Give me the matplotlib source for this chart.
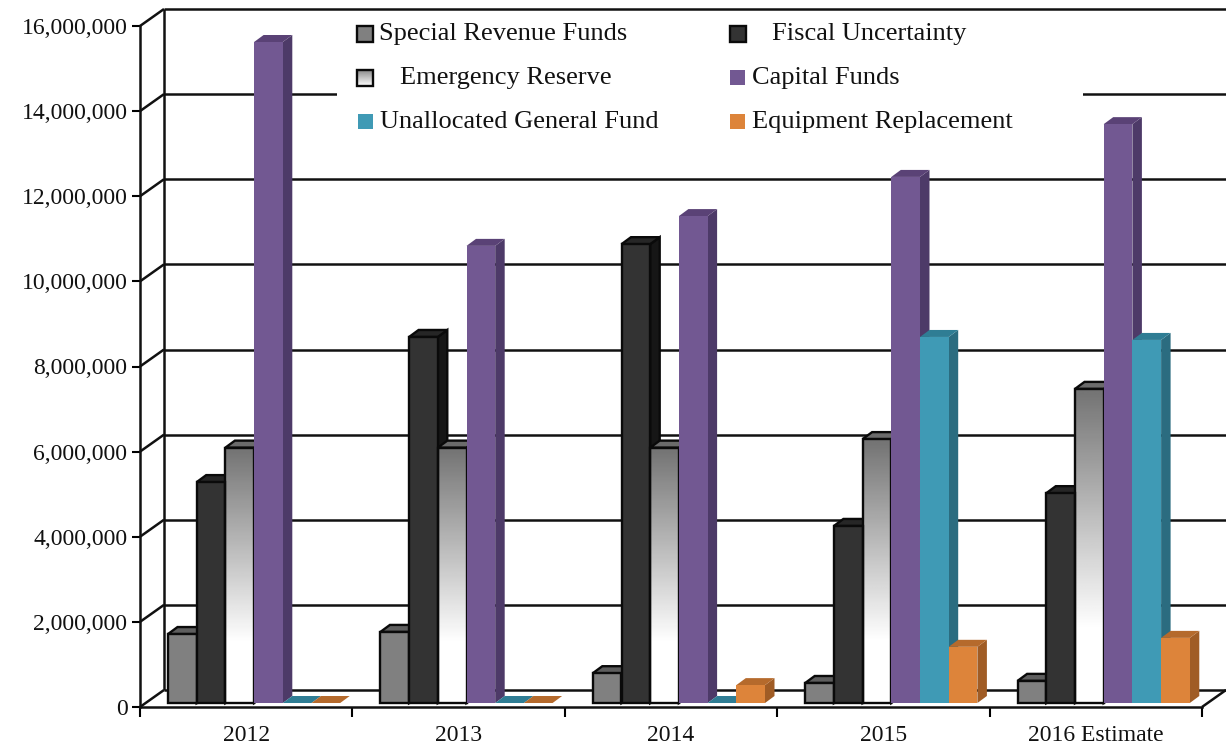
import numpy as np
from matplotlib import pyplot as plt
from matplotlib.patches import Rectangle, Polygon
from matplotlib.ticker import FuncFormatter

years = ['2012', '2013', '2014', '2015', '2016 Estimate']
special_revenue = [1620000, 1670000, 700000, 470000, 520000]
fiscal_uncertainty = [5190000, 8600000, 10780000, 4160000, 4930000]
emergency_reserve = [6000000, 6000000, 6000000, 6200000, 7380000]
capital_funds = [15530000, 10740000, 11440000, 12360000, 13600000]
unallocated_general = [0, 0, 0, 8600000, 8530000]
equipment_replacement = [0, 0, 420000, 1320000, 1530000]

y_ticks = [0, 2000000, 4000000, 6000000, 8000000, 10000000, 12000000, 14000000, 16000000]

# pixel layout of the front plane
W, H = 1226, 749
LEFT, RIGHT, TOP, BOTTOM = 140, 1202, 26, 707
FONT = 'Liberation Serif'

# name, values, front, top face, side face, outlined
SERIES = [
    ('Special Revenue Funds', special_revenue, '#808080', '#5e5e5e', '#4a4a4a', True),
    ('Fiscal Uncertainty', fiscal_uncertainty, '#333333', '#262626', '#161616', True),
    ('Emergency Reserve', emergency_reserve, 'gradient', '#6b6b6b', '#555555', True),
    ('Capital Funds', capital_funds, '#725892', '#5a4276', '#4d3a68', False),
    ('Unallocated General Fund', unallocated_general, '#3f9ab5', '#2f7d94', '#2b6c80', False),
    ('Equipment Replacement', equipment_replacement, '#dd843a', '#b56a2c', '#a05c25', False),
]


def px_x(px):
    """ Width in category units of a horizontal pixel distance """
    return px * len(years) / (RIGHT - LEFT)


def px_y(px):
    """ Height in data units of a vertical pixel distance """
    return px * max(y_ticks) / (BOTTOM - TOP)


def draw_walls(ax):
    back_x, back_y = px_x(24), px_y(17)
    xmax = px_x(W - LEFT)
    style = dict(color='#111111', lw=1.8, clip_on=False, zorder=1, solid_capstyle='butt')
    for tick in y_ticks:
        ax.plot([0, back_x], [tick, tick + back_y], **style)
        ax.plot([back_x, xmax], [tick + back_y, tick + back_y], **style)
    ax.plot([back_x, back_x], [back_y, max(y_ticks) + back_y], **style)
    ax.plot([len(years), len(years) + back_x], [0, back_y], **style)


def draw_bar(ax, left, width, value, series):
    _, _, front, top_col, side_col, outlined = series
    base = px_y(4)
    top = base + value
    dx, dy = px_x(9.5), px_y(7)
    edge = '#0a0a0a' if outlined else 'none'
    lw = 1.7 if outlined else 0

    ax.add_patch(Polygon([(left + width, base), (left + width + dx, base + dy),
                          (left + width + dx, top + dy), (left + width, top)],
                         fc=side_col, ec=edge, lw=lw, clip_on=False, zorder=3))
    ax.add_patch(Polygon([(left, top), (left + dx, top + dy),
                          (left + width + dx, top + dy), (left + width, top)],
                         fc=top_col, ec=edge, lw=lw, clip_on=False, zorder=3))
    if value == 0:
        return
    if front == 'gradient':
        shade = np.clip(np.linspace(1.0, 0.45, 200) ** 1.0, 0, 1)
        shade = np.where(shade > 0.45, np.clip((shade - 0.45) / 0.42, 0, 1) * 0.55 + 0.45, shade)
        im = ax.imshow(shade.reshape(-1, 1), cmap='gray', vmin=0, vmax=1, origin='lower',
                       extent=(left, left + width, base, top), aspect='auto', zorder=3.5)
        im.set_clip_on(False)
        ax.add_patch(Rectangle((left, base), width, value, fc='none', ec=edge, lw=lw,
                               clip_on=False, zorder=3.6))
    else:
        ax.add_patch(Rectangle((left, base), width, value, fc=front, ec=edge, lw=lw,
                               clip_on=False, zorder=3.6))


def draw_legend(fig):
    lax = fig.add_axes([0, 0, 1, 1], zorder=10)
    lax.set_xlim(0, W)
    lax.set_ylim(H, 0)
    lax.axis('off')
    lax.patch.set_alpha(0)
    lax.add_patch(Rectangle((337, 13), 746, 127, fc='white', ec='none'))

    swatch_x = [357, 730, 357, 730, 358, 730]
    text_x = [379, 772, 400, 752, 380, 752]
    rows = [34, 34, 78, 78, 122, 122]
    for series, sx, tx, row in zip(SERIES, swatch_x, text_x, rows):
        name, _, front, _, _, outlined = series
        if outlined:
            if front == 'gradient':
                shade = np.linspace(0.55, 1.0, 50).reshape(-1, 1)
                lax.imshow(shade, cmap='gray', vmin=0, vmax=1, extent=(sx, sx + 16, row + 8, row - 8),
                           aspect='auto', zorder=2)
                lax.set_xlim(0, W)
                lax.set_ylim(H, 0)
                front = 'none'
            lax.add_patch(Rectangle((sx, row - 8), 16, 16, fc=front, ec='#0a0a0a', lw=1.7, zorder=3))
        else:
            lax.add_patch(Rectangle((sx, row - 8), 15, 15, fc=front, ec='none', zorder=3))
        lax.text(tx, row, name, family=FONT, fontsize=19, color='#111111', va='center', ha='left')


def main():
    fig = plt.figure(figsize=(W / 100, H / 100), dpi=100)
    ax = fig.add_axes([LEFT / W, 1 - BOTTOM / H, (RIGHT - LEFT) / W, (BOTTOM - TOP) / H])

    draw_walls(ax)

    width = px_x(28.7)
    start = px_x(28)
    for i in range(len(years)):
        for j, series in enumerate(SERIES):
            draw_bar(ax, i + start + j * width, width, series[1][i], series)

    ax.set_xlim(0, len(years))
    ax.set_ylim(0, max(y_ticks))
    ax.patch.set_alpha(0)
    for side in ['top', 'right']:
        ax.spines[side].set_visible(False)
    for side in ['left', 'bottom']:
        ax.spines[side].set_linewidth(1.8)
        ax.spines[side].set_color('#111111')
        ax.spines[side].set_zorder(2)

    ax.set_yticks(y_ticks)
    ax.yaxis.set_major_formatter(FuncFormatter(lambda v, _: format(int(v), ',')))
    ax.tick_params(axis='y', length=6, width=1.5, pad=3, labelsize=17, labelcolor='#111111')
    ax.set_xticks(range(len(years) + 1))
    ax.set_xticklabels([])
    ax.set_xticks([i + 0.5 for i in range(len(years))], years, minor=True)
    ax.tick_params(axis='x', which='major', length=7, width=1.5)
    ax.tick_params(axis='x', which='minor', length=0, pad=13, labelsize=17, labelcolor='#111111')
    for label in ax.get_xticklabels(minor=True) + ax.get_yticklabels():
        label.set_family(FONT)

    draw_legend(fig)
    fig.savefig('out.png', dpi=100)


if __name__ == "__main__":
    main()
